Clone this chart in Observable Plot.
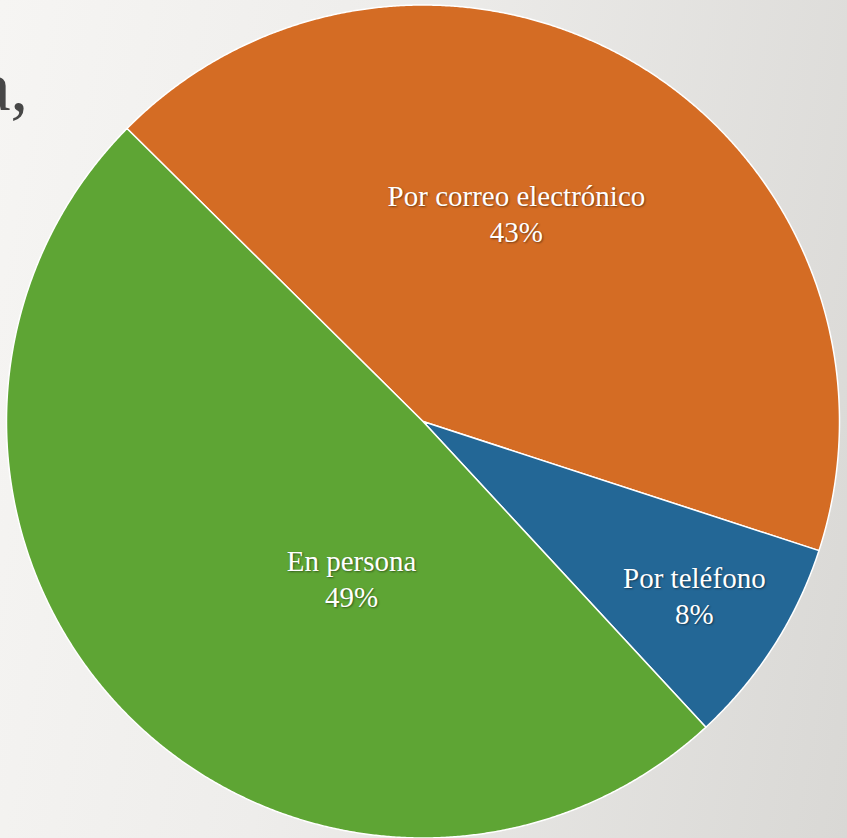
<!DOCTYPE html>
<html>
<head>
<meta charset="utf-8">
<script src="https://cdn.jsdelivr.net/npm/d3@7"></script>
<script src="https://cdn.jsdelivr.net/npm/@observablehq/plot@0.6"></script>
<style>
  html, body { margin: 0; padding: 0; }
  body {
    width: 847px; height: 838px; overflow: hidden; position: relative;
    background: linear-gradient(100deg, #f6f5f3 0%, #eeedeb 40%, #d9d8d5 100%);
  }
  #title {
    position: absolute; left: -300px; width: 328px; top: 52px;
    text-align: right; font-family: "Liberation Serif", serif; font-size: 70px;
    color: #474747; line-height: 1;
  }
  #chart { position: absolute; left: 0; top: 0; }
  #chart svg text { text-shadow: 1px 1px 2px rgba(0,0,0,0.45); }
</style>
</head>
<body>
<div id="title">a,</div>
<div id="chart"></div>
<script>
// Data
const categories = ["Por correo electrónico", "Por teléfono", "En persona"];
const values = [42.6, 8.1, 49.3];
const colors = ["#d46c24", "#236796", "#5ea534"];
// label placement (angle in degrees clockwise from top, radius as fraction)
const labelAngles = [24.4, 122.9, 204.2];
const labelRadii = [0.543, 0.776, 0.4185];
const startAngleDeg = -45.3;

const total = d3.sum(values);
const pie = d3.pie().sort(null).value(d => d.value)
  .startAngle(startAngleDeg * Math.PI / 180)
  .endAngle((startAngleDeg + 360) * Math.PI / 180);
const slices = pie(categories.map((c, i) => ({cat: c, value: values[i]})));

const pts = [];
for (const s of slices) {
  const cat = s.data.cat;
  pts.push({cat, x: 0, y: 0});
  const n = Math.max(2, Math.ceil((s.endAngle - s.startAngle) / (Math.PI / 720)));
  for (let k = 0; k <= n; k++) {
    const a = s.startAngle + (s.endAngle - s.startAngle) * k / n;
    pts.push({cat, x: Math.sin(a), y: Math.cos(a)});
  }
  pts.push({cat, x: 0, y: 0});
}

const labels = categories.map((c, i) => {
  const a = labelAngles[i] * Math.PI / 180;
  return {
    cat: c,
    x: labelRadii[i] * Math.sin(a),
    y: labelRadii[i] * Math.cos(a),
    text: c + "\n" + Math.round(values[i] / total * 100) + "%"
  };
});

const plot = Plot.plot({
  width: 847,
  height: 838,
  marginLeft: 6,
  marginRight: 8,
  marginTop: 4.5,
  marginBottom: 0.5,
  x: {domain: [-1, 1], axis: null},
  y: {domain: [-1, 1], axis: null},
  color: {domain: categories, range: colors},
  style: {background: "transparent", overflow: "visible"},
  marks: [
    Plot.line(pts, {x: "x", y: "y", z: "cat", fill: "cat", stroke: "white", strokeWidth: 1.5, curve: "linear", strokeLinejoin: "round"}),
    Plot.text(labels, {x: "x", y: "y", text: "text", fill: "white", fontSize: 29, lineHeight: 1.24, dy: -3, fontFamily: "Liberation Serif", textAnchor: "middle"})
  ]
});
document.getElementById("chart").appendChild(plot);
</script>
</body>
</html>
